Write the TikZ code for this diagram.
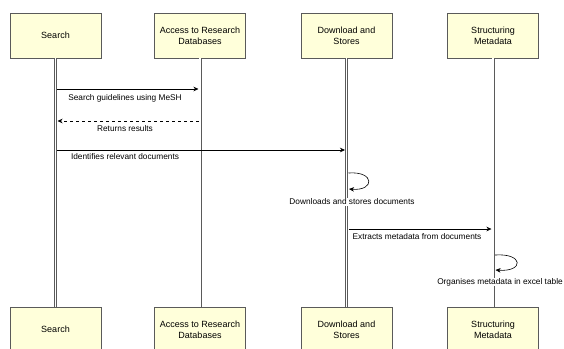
\documentclass[tikz,border=0pt]{standalone}
\usepackage{fontspec}
\setmainfont{Liberation Sans}
\usetikzlibrary{arrows.meta,calc}
\definecolor{boxfill}{RGB}{255,255,218}
\definecolor{boxline}{RGB}{90,90,90}
\tikzset{
    actor/.style = {rectangle,
                    fill=boxfill,
                    draw=boxline,
                    text=black,
                    line width=0.8pt,
                    minimum width=91pt,
                    minimum height=45pt,
                    align=center,
                    font=\fontsize{9}{11}\selectfont},
    life/.style =  {draw=boxline,
                    double=white,
                    line width=0.6pt,
                    double distance=1.8pt},
    msg/.style =   {->,
                    line width=0.6pt,
                    draw=black},
    reply/.style = {msg,
                    dashed},
    lbl/.style =   {text=black,
                    fill=white,
                    inner sep=0.5pt,
                    font=\fontsize{8.3}{10}\selectfont},
    >={Stealth[length=5pt,width=4.5pt,inset=1.5pt]}}
\begin{document}
\begin{tikzpicture}[x=1pt,y=-1pt]
    \useasboundingbox (0,0) rectangle (564,348);
    % participants, top and bottom
    \node[actor]    (search)    at (55.5,35.5)      {Search};
    \node[actor]    (access)    at (200,35.5)       {Access to Research\\Databases};
    \node[actor]    (download)  at (346.5,35.5)     {Download and\\Stores};
    \node[actor]    (struct)    at (493,35.5)       {Structuring\\Metadata};
    \node[actor]    (searchB)   at (55.5,329.5)     {Search};
    \node[actor]    (accessB)   at (200,329.5)      {Access to Research\\Databases};
    \node[actor]    (downloadB) at (346.5,329.5)    {Download and\\Stores};
    \node[actor]    (structB)   at (493,329.5)      {Structuring\\Metadata};
    % lifelines
    \draw[life] (search)   -- (searchB);
    \draw[life] (access)   -- (accessB);
    \draw[life] (download) -- (downloadB);
    \draw[life] (struct)   -- (structB);
    % message ends
    \coordinate (m1a) at (57,89);       \coordinate (m1b) at (198.5,89);
    \coordinate (m2a) at (198.5,121);   \coordinate (m2b) at (57.5,121);
    \coordinate (m3a) at (57,150);      \coordinate (m3b) at (345,150);
    \coordinate (s1a) at (348.5,173);   \coordinate (s1b) at (349,189);
    \coordinate (m4a) at (348.5,229);   \coordinate (m4b) at (491.5,229);
    \coordinate (s2a) at (495,255);     \coordinate (s2b) at (495.5,270);
    % messages
    \draw[msg]   (m1a) -- (m1b);
    \draw[reply] (m2a) -- (m2b);
    \draw[msg]   (m3a) -- (m3b);
    \draw[msg]   (s1a) .. controls (375,171) and (375,191) .. (s1b);
    \draw[msg]   (m4a) -- (m4b);
    \draw[msg]   (s2a) .. controls (524,253) and (524,272) .. (s2b);
    % labels
    \node[lbl] (l1) at (125,98)  {Search guidelines using MeSH};
    \node[lbl] (l2) at (125,129) {Returns results};
    \node[lbl] (l3) at (125,157) {Identifies relevant documents};
    \node[lbl] (l4) at (352,202) {Downloads and stores documents};
    \node[lbl] (l5) at (417,237) {Extracts metadata from documents};
    \node[lbl] (l6) at (500,282) {Organises metadata in excel table};
\end{tikzpicture}
\end{document}
